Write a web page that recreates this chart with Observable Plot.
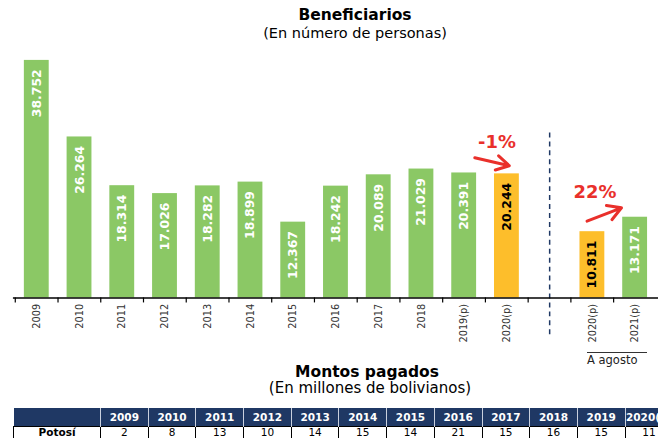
<!DOCTYPE html>
<html><head><meta charset="utf-8">
<script src="https://cdn.jsdelivr.net/npm/d3@7"></script>
<script src="https://cdn.jsdelivr.net/npm/@observablehq/plot@0.6"></script>
<style>
body{margin:0;background:#fff;font-family:"DejaVu Sans",sans-serif;}
#wrap{position:relative;width:658px;height:439px;overflow:hidden;background:#fff;}
.ttl{position:absolute;left:0;text-align:center;color:#000;white-space:nowrap;line-height:20px;}
#chart{position:absolute;left:0;top:45px;}
#agosto{position:absolute;left:587px;top:352px;width:60px;border-top:1.5px solid #333;font-size:11.5px;line-height:14px;color:#222;}
table{position:absolute;left:13px;top:408px;width:659.4px;border-collapse:collapse;table-layout:fixed;font-size:10.5px;}
th{background:#1F3864;color:#fff;font-weight:700;height:18px;padding:0;border-left:1px solid #c9d0de;text-align:center;white-space:nowrap;overflow:hidden;}
td{height:11px;line-height:11px;padding:0;border:1px solid #000;border-bottom:none;text-align:center;color:#000;font-size:10.5px;}
td.lab{font-weight:700;}
</style></head>
<body><div id="wrap">
<div class="ttl" style="top:4.6px;width:710px;font-size:15.5px;font-weight:700;">Beneficiarios</div>
<div class="ttl" style="top:23px;width:710px;font-size:14.5px;">(En número de personas)</div>
<div id="chart"></div>
<div id="agosto">A agosto</div>
<div class="ttl" style="top:361.6px;width:734px;font-size:15.5px;font-weight:700;">Montos pagados</div>
<div class="ttl" style="top:378px;width:740px;font-size:15px;">(En millones de bolivianos)</div>
<div id="tbl"></div>
</div>
<script>
// ---- data ----
const keys = ["2009","2010","2011","2012","2013","2014","2015","2016","2017","2018","2019(p)","2020(p)","gap","2020(p)A","2021(p)A"];
const tickLabels = ["2009","2010","2011","2012","2013","2014","2015","2016","2017","2018","2019(p)","2020(p)","","2020(p)","2021(p)"];
const values = [38752,26264,18314,17026,18282,18899,12367,18242,20089,21029,20391,20244,null,10811,13171];
const highlighted = [false,false,false,false,false,false,false,false,false,false,false,true,false,true,false];

const changeLabels = ["-1%","22%"];
const changeFrom = ["2019(p)","2020(p)A"];
const changeTo = ["2020(p)","2021(p)A"];

const tableYears = ["2009","2010","2011","2012","2013","2014","2015","2016","2017","2018","2019","2020(p)"];
const tableRowLabel = "Potosí";
const tableValues = [2,8,13,10,14,15,14,21,15,16,15,11];

// ---- build ----
const green = "#8BC865", orange = "#FDBE2B", red = "#E9302B", navy = "#1F3864";
const fmt = d3.formatLocale({decimal:",", thousands:".", grouping:[3], currency:["",""]}).format(",");
const rows = keys.map((k,i)=>({key:k, label:tickLabels[i], value:values[i], hi:highlighted[i]})).filter(d=>d.value!=null);
const labelOf = new Map(keys.map((k,i)=>[k,tickLabels[i]]));
const step = (662-13)/keys.length;

const chart = Plot.plot({
  width: 662, height: 320,
  marginLeft: 13, marginRight: 0, marginTop: 7.3, marginBottom: 66,
  style: {fontFamily: "DejaVu Sans, sans-serif", background: "transparent", overflow: "visible"},
  x: {domain: keys, paddingInner: 0.43, paddingOuter: 0.215, axis: null},
  y: {domain: [0, 40000], axis: null},
  marks: [
    Plot.barY(rows, {x: "key", y: "value", fill: d => d.hi ? orange : green}),
    Plot.text(rows, {x: "key", y: "value", text: d => fmt(d.value), rotate: -90, textAnchor: "end", lineAnchor: "middle", dy: 9,
      fill: d => d.hi ? "#000" : "#fff", fontWeight: 700, fontSize: 12.5}),
    Plot.ruleX(["gap"], {x: d => d, y1: -6000, y2: 27080, stroke: navy, strokeWidth: 1.5, strokeDasharray: "5,4"}),
    Plot.ruleY([0], {stroke: "#000", strokeWidth: 1.5}),
    Plot.axisX({tickSize: 5, tickFormat: () => "", label: null, dx: -step/2, stroke: "#000", strokeWidth: 1.2}),
    Plot.axisX({tickSize: 0, tickPadding: 6, tickRotate: -90, label: null, tickFormat: d => labelOf.get(d), fontSize: 9.8, fill: "#333", anchor: "bottom"}),
    Plot.arrow([0], {x1: () => changeFrom[0], x2: () => changeTo[0], y1: 23170, y2: 21566, dx: 2.4, insetStart: 8.5,
      stroke: red, strokeWidth: 3, headLength: 9}),
    Plot.arrow([1], {x1: () => changeFrom[1], x2: () => changeTo[1], y1: 12535, y2: 15226, dx: -5.4, insetEnd: 8.9,
      stroke: red, strokeWidth: 3, headLength: 9}),
    Plot.text([0], {x: () => changeTo[0], y: 25458, text: () => changeLabels[0], dx: -10, fill: red, fontWeight: 700, fontSize: 18, lineAnchor: "middle"}),
    Plot.text([1], {x: () => changeFrom[1], y: 17270, text: () => changeLabels[1], dx: 2.6, fill: red, fontWeight: 700, fontSize: 18, lineAnchor: "middle"})
  ]
});
document.getElementById("chart").appendChild(chart);

// table
const colW = 47.7;
let html = '<table><colgroup><col style="width:87px">' + tableYears.map(()=>`<col style="width:${colW}px">`).join("") + '</colgroup>';
html += '<tr><th style="border-left:none"></th>' + tableYears.map(y=>`<th>${y}</th>`).join("") + '</tr>';
html += `<tr><td class="lab">${tableRowLabel}</td>` + tableValues.map(v=>`<td>${v}</td>`).join("") + '</tr></table>';
document.getElementById("tbl").innerHTML = html;
</script>
</body></html>
